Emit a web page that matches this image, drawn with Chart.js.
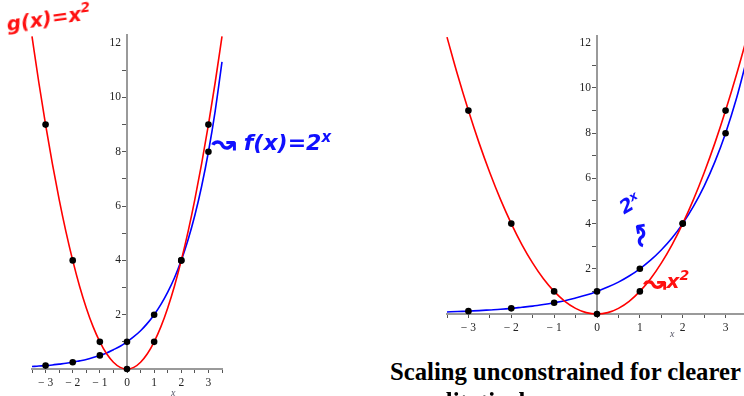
<!DOCTYPE html>
<html>
<head>
<meta charset="utf-8">
<script src="https://cdn.jsdelivr.net/npm/chart.js@4.4.1/dist/chart.umd.min.js"></script>
<style>
  html, body { margin:0; padding:0; background:#fff; }
  body { width:744px; height:396px; overflow:hidden; position:relative; }
  canvas { position:absolute; }
  .ann { position:absolute; white-space:nowrap; font-family:"DejaVu Sans", sans-serif; font-weight:bold; font-style:italic; line-height:1; }
  .red { color:#ff1010; }
  .blue { color:#1010ff; }
  .xl { position:absolute; font-family:"Liberation Serif", serif; font-style:italic; font-size:10px; color:#556; }
  .cap { position:absolute; font-family:"Liberation Serif", serif; font-weight:bold; font-size:24.7px; color:#000; white-space:nowrap; line-height:1.15; }
</style>
</head>
<body>
<canvas id="left" width="250" height="396" style="left:0;top:0;width:250px;height:396px"></canvas>
<canvas id="right" width="360" height="340" style="left:400px;top:0;width:360px;height:340px"></canvas>

<div class="ann red" style="left:8px;top:11px;font-size:20px;transform:rotate(-8deg);transform-origin:left bottom">g(x)=x<sup style="font-size:14px">2</sup></div>
<div class="ann blue" style="left:211px;top:128px;font-size:22px;"><span style="font-size:30px;font-style:normal;vertical-align:-3px">↝</span> f(x)=2<sup style="font-size:15px">x</sup></div>
<div class="ann blue" style="left:619px;top:193px;font-size:19px;transform:rotate(-30deg)">2<sup style="font-size:12px">x</sup></div>
<div class="ann blue" style="left:628px;top:222px;font-size:28px;font-style:normal;transform:rotate(-100deg)">↝</div>
<div class="ann red" style="left:643px;top:268px;font-size:20px;"><span style="font-size:28px;font-style:normal;vertical-align:-4px">↝</span>x<sup style="font-size:14px">2</sup></div>

<div class="xl" style="left:171px;top:387px">x</div>
<div class="xl" style="left:670px;top:328px">x</div>

<div class="cap" style="left:390px;top:358px">Scaling unconstrained for clearer</div>
<div class="cap" style="left:406px;top:388px">qualitatively</div>

<script>
// ---- data ----
const curveX = [-3.5,-3.25,-3,-2.75,-2.5,-2.25,-2,-1.75,-1.5,-1.25,-1,-0.75,-0.5,-0.25,0,0.25,0.5,0.75,1,1.25,1.5,1.75,2,2.25,2.5,2.75,3,3.25,3.5];
const squareCurve = [12.25,10.56,9,7.56,6.25,5.06,4,3.06,2.25,1.56,1,0.56,0.25,0.06,0,0.06,0.25,0.56,1,1.56,2.25,3.06,4,5.06,6.25,7.56,9,10.56,12.25];
const expCurve = [0.09,0.11,0.125,0.15,0.18,0.21,0.25,0.30,0.35,0.42,0.5,0.59,0.71,0.84,1,1.19,1.41,1.68,2,2.38,2.83,3.36,4,4.76,5.66,6.73,8,9.51,11.31];
const dotX = [-3,-2,-1,0,1,2,3];
const squareDots = [9,4,1,0,1,4,9];
const expDots = [0.125,0.25,0.5,1,2,4,8];
const yTickLabels = [2,4,6,8,10,12];
const xTickLabels = [-3,-2,-1,0,1,2,3];

const zip = (xs, ys) => xs.map((x, i) => ({x, y: ys[i]}));
const tickFont = {family: 'Liberation Serif', size: 11.5};

// draws the y tick labels to the left of the centred y axis
const yLabelPlugin = {
  id: 'yLabels',
  afterDraw(chart) {
    const {ctx, scales: {x, y}} = chart;
    const ax = x.getPixelForValue(0);
    ctx.save();
    ctx.font = `${tickFont.size}px "${tickFont.family}"`;
    ctx.fillStyle = '#222';
    ctx.textAlign = 'right';
    ctx.textBaseline = 'middle';
    yTickLabels.forEach(v => ctx.fillText(String(v), ax - 6, y.getPixelForValue(v)));
    ctx.restore();
  }
};

function makeChart(id, pad, xAxisHeight) {
  return new Chart(document.getElementById(id), {
    type: 'scatter',
    data: {
      datasets: [
        {data: zip(dotX, squareDots), pointRadius: 3.3, pointBackgroundColor: '#000', pointBorderColor: '#000', pointBorderWidth: 0, showLine: false, clip: false},
        {data: zip(dotX, expDots), pointRadius: 3.3, pointBackgroundColor: '#000', pointBorderColor: '#000', pointBorderWidth: 0, showLine: false, clip: false},
        {data: zip(curveX, squareCurve), showLine: true, borderColor: '#ff0000', borderWidth: 1.6, pointRadius: 0, cubicInterpolationMode: 'monotone', clip: 4},
        {data: zip(curveX, expCurve), showLine: true, borderColor: '#0000ff', borderWidth: 1.6, pointRadius: 0, cubicInterpolationMode: 'monotone', clip: 4}
      ]
    },
    plugins: [yLabelPlugin],
    options: {
      responsive: false,
      animation: false,
      events: [],
      layout: {padding: pad},
      plugins: {legend: {display: false}, tooltip: {enabled: false}},
      scales: {
        x: {
          type: 'linear', min: -3.5, max: 3.5, position: 'bottom',
          ticks: {
            stepSize: 0.5, autoSkip: false, maxRotation: 0, font: tickFont, color: '#222', padding: 3,
            callback: v => xTickLabels.includes(v) ? (v < 0 ? '\u2212 ' + (-v) : String(v)) : ''
          },
          grid: {drawOnChartArea: false, tickLength: 4, color: '#555', tickWidth: 1},
          border: {color: '#9a9a9a', width: 2},
          afterFit: s => { s.height = xAxisHeight; }
        },
        y: {
          type: 'linear', min: 0, max: 12.3, position: {x: 0},
          afterBuildTicks: s => { s.ticks = s.ticks.filter(t => Number.isInteger(t.value)); },
          ticks: {stepSize: 1, autoSkip: false, display: false},
          grid: {drawOnChartArea: false, tickLength: 4, color: '#555', tickWidth: 1},
          border: {color: '#9a9a9a', width: 2},
          afterFit: s => { s.width = 0; }
        }
      }
    }
  });
}

makeChart('left', {left: 32, right: 28, top: 35, bottom: 0}, 27);
makeChart('right', {left: 47, right: 13, top: 36, bottom: 0}, 26);
</script>
</body>
</html>
